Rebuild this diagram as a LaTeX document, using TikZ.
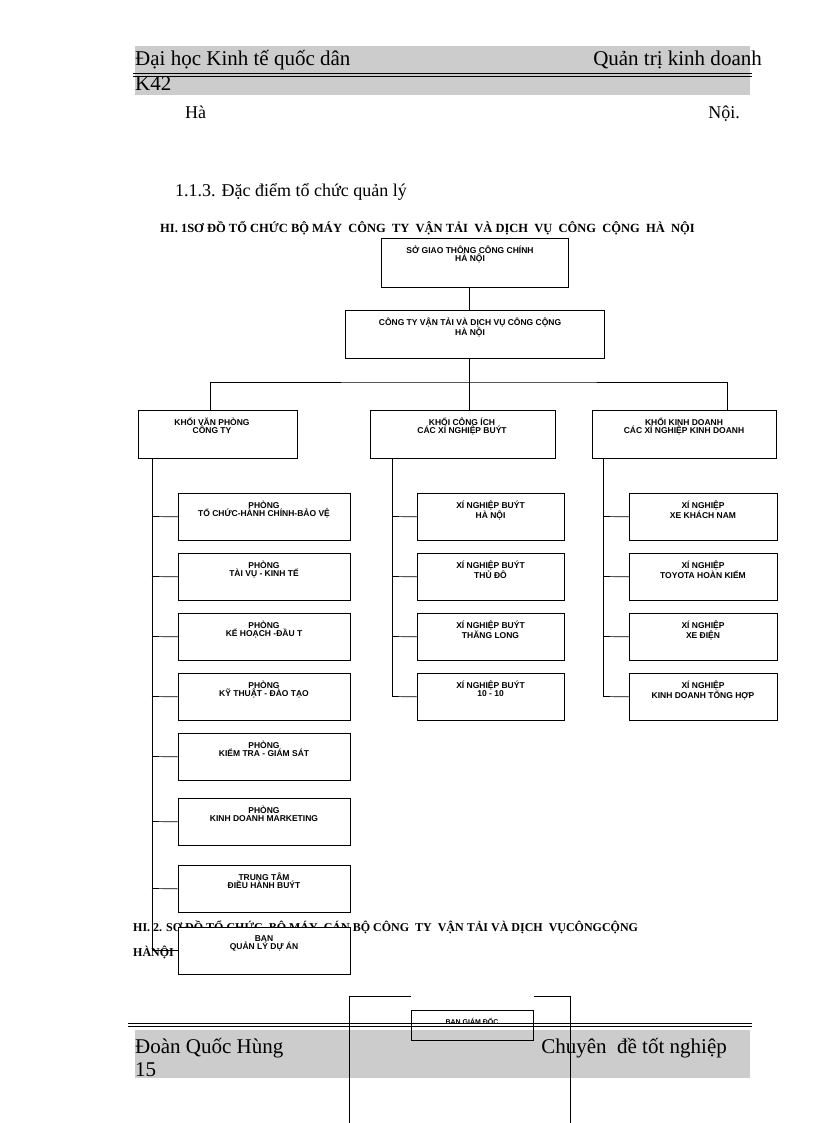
\documentclass[tikz,border=0pt]{standalone}
\usepackage{fontspec}
\setmainfont{Liberation Serif}
\newfontfamily\bx{Liberation Sans}
\begin{document}
\begin{tikzpicture}[x=1pt,y=-1pt,
 box/.style={draw,line width=0.7pt,inner sep=0pt},
 lab/.style={align=center,font=\bx\bfseries\fontsize{8.5}{8}\selectfont,inner sep=0pt},
 ln/.style={line width=0.7pt},
 big/.style={font=\fontsize{21}{21}\selectfont,inner sep=0},
 mid/.style={font=\fontsize{18}{18}\selectfont,inner sep=0}]
\useasboundingbox (0,0) rectangle (816,1123);
% header
\fill[gray!40] (135,46) rectangle (750,95);
\draw[line width=1pt] (133,74) -- (752,74);
\draw[line width=1pt] (133,77) -- (752,77);
\node[anchor=base west,big] (h1) at (135,66) {Đại học Kinh tế quốc dân};
\node[anchor=base east,big] (h2) at (762,66) {Quản trị kinh doanh};
\node[anchor=base west,big] (h3) at (135,91) {K42};
\node[anchor=base west,mid] (ha) at (185,119) {Hà};
\node[anchor=base east,mid] (noi) at (740,119) {Nội.};
\node[anchor=base west,mid] (sec) at (175,197) {1.1.3. Đặc điểm tổ chức quản lý};
\node[anchor=base west,font=\bfseries\fontsize{12.5}{12.5}\selectfont,inner sep=0] (t1) at (160,233) {HI. 1SƠ ĐỒ TỔ CHỨC BỘ MÁY\ \ CÔNG\ \ TY\ \ VẬN TẢI\ \ VÀ DỊCH\ \ VỤ\ \ CÔNG\ \ CỘNG\ \ HÀ\ \ NỘI};
% boxes
\node[box,minimum width=187pt,minimum height=49pt,anchor=north west] (so) at (381,238) {};
\node[lab,anchor=north] at (470,246) {SỞ GIAO THÔNG CÔNG CHÍNH\\HÀ NỘI};
\node[box,minimum width=259pt,minimum height=48pt,anchor=north west] (ct) at (345,310) {};
\node[lab,anchor=north] at (470,318) {CÔNG TY VẬN TẢI VÀ DỊCH VỤ CÔNG CỘNG\\HÀ NỘI};
\node[box,minimum width=159pt,minimum height=48pt,anchor=north west] (k1) at (138,410) {};
\node[lab,anchor=north] at (212,418) {KHỐI VĂN PHÒNG\\CÔNG TY};
\node[box,minimum width=185pt,minimum height=48pt,anchor=north west] (k2) at (370,410) {};
\node[lab,anchor=north] at (462,418) {KHỐI CÔNG ÍCH\\CÁC XÍ NGHIỆP BUÝT};
\node[box,minimum width=184pt,minimum height=48pt,anchor=north west] (k3) at (592,410) {};
\node[lab,anchor=north] at (684,418) {KHỐI KINH DOANH\\CÁC XÍ NGHIỆP KINH DOANH};
\coordinate (bar) at (469,382);
\draw[ln] (so.south -| bar) -- (ct.north -| bar);
\draw[ln] (ct.south -| bar) -- (bar);
\draw[ln] (k1.north -| 210,0) |- (bar) -| (k3.north -| 727,0);
\draw[ln] (bar) -- (k2.north -| bar);
% left column
\foreach \i/\y/\t in {a/493/{PHÒNG\\TỔ CHỨC-HÀNH CHÍNH-BẢO VỆ},b/553/{PHÒNG\\TÀI VỤ - KINH TẾ},c/613/{PHÒNG\\KẾ HOẠCH -ĐẦU T},d/673/{PHÒNG\\KỸ THUẬT - ĐÀO TẠO},e/733/{PHÒNG\\KIỂM TRA - GIÁM SÁT},f/798/{PHÒNG\\KINH DOANH MARKETING},g/865/{TRUNG TÂM\\ĐIỀU HÀNH BUÝT}}{
 \node[box,minimum width=172pt,minimum height=47pt,anchor=north west] (L\i) at (178,\y) {};
 \node[lab,anchor=north] at (264,\y+8) {\t};
 \draw[ln] (152,\y+23.5) -- (L\i.west);
}
\draw[ln] (152,458) -- (152,950.5);
\draw[ln] (152,950.5) -- (178,950.5);
% middle column
\foreach \i/\y/\t in {a/493/{XÍ NGHIỆP BUÝT\\HÀ NỘI},b/553/{XÍ NGHIỆP BUÝT\\THỦ ĐÔ},c/613/{XÍ NGHIỆP BUÝT\\THĂNG LONG},d/673/{XÍ NGHIỆP BUÝT\\10 - 10}}{
 \node[box,minimum width=147pt,minimum height=47pt,anchor=north west] (M\i) at (417,\y) {};
 \node[lab,anchor=north] at (490.5,\y+8) {\t};
 \draw[ln] (392,\y+23.5) -- (M\i.west);
}
\draw[ln] (392,458) -- (392,696.5);
% right column
\foreach \i/\y/\t in {a/493/{XÍ NGHIỆP\\XE KHÁCH NAM},b/553/{XÍ NGHIỆP\\TOYOTA HOÀN KIẾM},c/613/{XÍ NGHIỆP\\XE ĐIỆN},d/673/{XÍ NGHIỆP\\KINH DOANH TỔNG HỢP}}{
 \node[box,minimum width=148pt,minimum height=47pt,anchor=north west] (R\i) at (629,\y) {};
 \node[lab,anchor=north] at (703,\y+8) {\t};
 \draw[ln] (603,\y+23.5) -- (R\i.west);
}
\draw[ln] (603,458) -- (603,696.5);
% caption 2
\node[anchor=base west,font=\bfseries\fontsize{12}{12}\selectfont,inner sep=0] (t2) at (133,931) {HI. 2. SƠ ĐỒ TỔ CHỨC\ \ BỘ MÁY\ \ CÁN BỘ CÔNG\ \ TY\ \ VẬN TẢI VÀ DỊCH\ \ VỤCÔNGCỘNG};
\node[anchor=base west,font=\bfseries\fontsize{12}{12}\selectfont,inner sep=0] (t3) at (133,956) {HÀNỘI};
\node[box,minimum width=172pt,minimum height=47pt,anchor=north west,fill=white] (Lh) at (178,927) {};
\node[lab,anchor=north] at (264,935) {BAN\\QUẢN LÝ DỰ ÁN};
% footer
\fill[gray!40] (135,1030) rectangle (750,1078);
\draw[line width=0.8pt] (128,1023) -- (752,1023);
\draw[line width=0.8pt] (128,1026) -- (752,1026);
\node[anchor=base west,big] (f1) at (135,1053) {Đoàn Quốc Hùng};
\node[anchor=base east,big] (f2) at (727,1053) {Chuyên\ \ đề tốt nghiệp};
\node[anchor=base west,big] (f3) at (135,1076) {15};
\node[box,minimum width=122pt,minimum height=30pt,anchor=north west] (bgd) at (411,1010) {};
\node[lab,anchor=north,font=\bx\bfseries\fontsize{7}{7}\selectfont] at (472,1018) {BAN GIÁM ĐỐC};
\draw[ln] (bgd.north west |- 0,996) -- (349,996) -- (349,1123);
\draw[ln] (bgd.north east |- 0,996) -- (570,996) -- (570,1123);
\end{tikzpicture}
\end{document}
